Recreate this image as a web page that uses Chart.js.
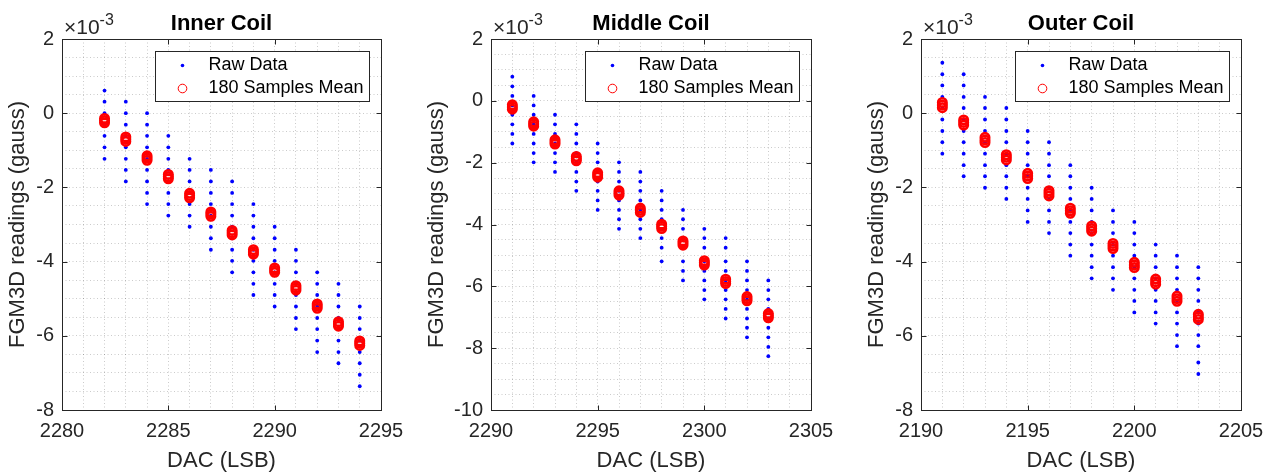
<!DOCTYPE html>
<html>
<head>
<meta charset="utf-8">
<script src="https://cdn.jsdelivr.net/npm/chart.js@4"></script>
<style>
  html, body { margin: 0; padding: 0; background: #fff; }
  #wrap { position: relative; width: 1275px; height: 472px; }
  canvas { position: absolute; top: 0; }
</style>
</head>
<body>
<div id="wrap">
  <canvas id="innerChart" width="425" height="472" style="left:0px"></canvas>
  <canvas id="middleChart" width="425" height="472" style="left:425px"></canvas>
  <canvas id="outerChart" width="425" height="472" style="left:850px"></canvas>
</div>
<script>
// values in units of 1e-3 gauss
const innerDac = [2282, 2283, 2284, 2285, 2286, 2287, 2288, 2289, 2290, 2291, 2292, 2293, 2294];
const innerRaw = [
  [0.61, 0.31, 0.00, -0.31, -0.61, -0.92, -1.23],
  [0.31, 0.00, -0.31, -0.61, -0.92, -1.23, -1.53, -1.84],
  [0.00, -0.31, -0.61, -0.92, -1.23, -1.53, -1.84, -2.15, -2.45],
  [-0.61, -0.92, -1.23, -1.53, -1.84, -2.15, -2.45, -2.76],
  [-1.23, -1.53, -1.84, -2.15, -2.45, -2.76, -3.06],
  [-1.53, -1.84, -2.15, -2.45, -2.76, -3.06, -3.37, -3.68],
  [-1.84, -2.15, -2.45, -2.76, -3.06, -3.37, -3.68, -3.98, -4.29],
  [-2.45, -2.76, -3.06, -3.37, -3.68, -3.98, -4.29, -4.60, -4.90],
  [-3.06, -3.37, -3.68, -3.98, -4.29, -4.60, -4.90, -5.21],
  [-3.68, -3.98, -4.29, -4.60, -4.90, -5.21, -5.52, -5.82],
  [-4.29, -4.60, -4.90, -5.21, -5.52, -5.82, -6.13, -6.44],
  [-4.60, -4.90, -5.21, -5.52, -5.82, -6.13, -6.44, -6.74],
  [-5.21, -5.52, -5.82, -6.13, -6.44, -6.74, -7.05, -7.36]
];
const innerMeans = [
  [-0.14, -0.20, -0.26], [-0.64, -0.70, -0.76], [-1.15, -1.21, -1.27],
  [-1.65, -1.71, -1.77], [-2.16, -2.22, -2.28], [-2.66, -2.72, -2.78],
  [-3.16, -3.22, -3.28], [-3.68, -3.74, -3.80], [-4.17, -4.23, -4.29],
  [-4.65, -4.71, -4.77], [-5.14, -5.20, -5.26], [-5.62, -5.68, -5.74],
  [-6.14, -6.20, -6.26]
];

const middleDac = [2291, 2292, 2293, 2294, 2295, 2296, 2297, 2298, 2299, 2300, 2301, 2302, 2303];
const middleRaw = [
  [0.78, 0.47, 0.16, -0.15, -0.45, -0.76, -1.07, -1.38],
  [0.16, -0.15, -0.45, -0.76, -1.07, -1.38, -1.69, -1.99],
  [-0.45, -0.76, -1.07, -1.38, -1.69, -1.99, -2.30],
  [-0.76, -1.07, -1.38, -1.69, -1.99, -2.30, -2.61, -2.91],
  [-1.38, -1.69, -1.99, -2.30, -2.61, -2.91, -3.22, -3.53],
  [-1.99, -2.30, -2.61, -2.91, -3.22, -3.53, -3.83, -4.14],
  [-2.30, -2.61, -2.91, -3.22, -3.53, -3.83, -4.14, -4.44],
  [-2.91, -3.22, -3.53, -3.83, -4.14, -4.44, -4.75, -5.19],
  [-3.53, -3.83, -4.14, -4.44, -4.75, -5.19, -5.50, -5.81],
  [-4.14, -4.44, -4.75, -5.19, -5.50, -5.81, -6.12, -6.42],
  [-4.44, -4.75, -5.19, -5.50, -5.81, -6.12, -6.42, -6.73, -7.04],
  [-5.19, -5.50, -5.81, -6.12, -6.42, -6.73, -7.04, -7.34, -7.65],
  [-5.81, -6.12, -6.42, -6.73, -7.04, -7.34, -7.65, -7.96, -8.26]
];
const middleMeans = [
  [-0.13, -0.20, -0.27], [-0.68, -0.75, -0.82], [-1.26, -1.33, -1.40],
  [-1.80, -1.87, -1.94], [-2.33, -2.40, -2.47], [-2.91, -2.98, -3.05],
  [-3.47, -3.54, -3.61], [-3.99, -4.06, -4.13], [-4.53, -4.60, -4.67],
  [-5.17, -5.24, -5.31], [-5.77, -5.84, -5.91], [-6.33, -6.40, -6.47],
  [-6.88, -6.95, -7.02]
];

const outerDac = [2191, 2192, 2193, 2194, 2195, 2196, 2197, 2198, 2199, 2200, 2201, 2202, 2203];
const outerRaw = [
  [1.36, 1.05, 0.75, 0.44, 0.14, -0.17, -0.48, -0.78, -1.09],
  [1.05, 0.75, 0.44, 0.14, -0.17, -0.48, -0.78, -1.09, -1.40, -1.70],
  [0.44, 0.14, -0.17, -0.48, -0.78, -1.09, -1.40, -1.70, -2.01],
  [0.14, -0.17, -0.48, -0.78, -1.09, -1.40, -1.70, -2.01, -2.31],
  [-0.48, -0.78, -1.09, -1.40, -1.70, -2.01, -2.31, -2.62, -2.93],
  [-0.78, -1.09, -1.40, -1.70, -2.01, -2.31, -2.62, -2.93, -3.23],
  [-1.40, -1.70, -2.01, -2.31, -2.62, -2.93, -3.23, -3.54, -3.84],
  [-2.01, -2.31, -2.62, -2.93, -3.23, -3.54, -3.84, -4.15, -4.45],
  [-2.62, -2.93, -3.23, -3.54, -3.84, -4.15, -4.45, -4.76],
  [-2.93, -3.23, -3.54, -3.84, -4.15, -4.45, -4.76, -5.06, -5.37],
  [-3.54, -3.84, -4.15, -4.45, -4.76, -5.06, -5.37, -5.67],
  [-3.84, -4.15, -4.45, -4.76, -5.06, -5.37, -5.67, -5.98, -6.28],
  [-4.15, -4.45, -4.76, -5.06, -5.37, -5.67, -5.98, -6.28, -6.72, -7.03]
];
const outerMeans = [
  [0.29, 0.22, 0.15], [-0.18, -0.25, -0.32], [-0.65, -0.72, -0.79],
  [-1.12, -1.19, -1.26], [-1.62, -1.69, -1.76], [-2.09, -2.16, -2.23],
  [-2.56, -2.63, -2.70], [-3.04, -3.11, -3.18], [-3.51, -3.58, -3.65],
  [-4.02, -4.09, -4.16], [-4.47, -4.54, -4.61], [-4.93, -5.00, -5.07],
  [-5.42, -5.49, -5.56]
];

const legendLabels = ['Raw Data', '180 Samples Mean'];
const xTitle = 'DAC (LSB)';
const yTitle = 'FGM3D readings (gauss)';

const FONT = "'Liberation Sans', Arial, Helvetica, sans-serif";
const INK = '#262626';
const GRID = 'rgba(38,38,38,0.24)';
const RAW_COLOR = '#0000ff';
const MEAN_COLOR = '#ff0000';

// MATLAB-like decorations: box, inner ticks, legend, title, exponent, axis titles
const matlabFrame = {
  id: 'matlabFrame',
  afterDraw(chart, args, opts) {
    const { ctx, chartArea: a, scales: { x, y } } = chart;
    const L = Math.round(a.left) + 0.5, R = Math.round(a.right) + 0.5;
    const T = Math.round(a.top) + 0.5, B = Math.round(a.bottom) + 0.5;
    ctx.save();
    ctx.strokeStyle = INK;
    ctx.lineWidth = 1;
    ctx.beginPath();
    x.ticks.forEach(t => {
      if (t.value % 5 !== 0) return;
      const px = Math.round(x.getPixelForValue(t.value)) + 0.5;
      ctx.moveTo(px, B); ctx.lineTo(px, B - 5);
      ctx.moveTo(px, T); ctx.lineTo(px, T + 5);
    });
    y.ticks.forEach(t => {
      if (t.value % 2 !== 0) return;
      const py = Math.round(y.getPixelForValue(t.value)) + 0.5;
      ctx.moveTo(L, py); ctx.lineTo(L + 5, py);
      ctx.moveTo(R, py); ctx.lineTo(R - 5, py);
    });
    ctx.stroke();
    ctx.strokeRect(L, T, R - L, B - T);

    // legend box
    const bw = 214, bh = 50;
    const bx = R - 12 - bw, by = T + 12;
    ctx.fillStyle = '#fff';
    ctx.fillRect(bx, by, bw, bh);
    ctx.strokeStyle = INK;
    ctx.strokeRect(bx, by, bw, bh);
    ctx.fillStyle = RAW_COLOR;
    ctx.beginPath(); ctx.arc(bx + 27, by + 14, 1.8, 0, Math.PI * 2); ctx.fill();
    ctx.strokeStyle = MEAN_COLOR;
    ctx.lineWidth = 1;
    ctx.beginPath(); ctx.arc(bx + 27, by + 37, 4.3, 0, Math.PI * 2); ctx.stroke();
    ctx.fillStyle = '#000';
    ctx.font = `18px ${FONT}`;
    ctx.textAlign = 'left';
    ctx.textBaseline = 'middle';
    ctx.fillText(chart.data.datasets[1].label, bx + 53, by + 14);
    ctx.fillText(chart.data.datasets[0].label, bx + 53, by + 37);

    // title
    ctx.font = `bold 22px ${FONT}`;
    ctx.textAlign = 'center';
    ctx.textBaseline = 'alphabetic';
    ctx.fillText(opts.title, (a.left + a.right) / 2, 29.5);

    // x10^-3
    ctx.fillStyle = INK;
    ctx.textAlign = 'left';
    ctx.font = `21px ${FONT}`;
    ctx.fillText('\u00d710', a.left + 2, 34);
    const w = ctx.measureText('\u00d710').width;
    ctx.font = `16px ${FONT}`;
    ctx.fillText('-3', a.left + 2 + w, 25);

    // axis titles
    ctx.font = `22px ${FONT}`;
    ctx.textAlign = 'center';
    ctx.fillText(xTitle, (a.left + a.right) / 2, 467);
    ctx.translate(opts.yTitleX, (a.top + a.bottom) / 2);
    ctx.rotate(-Math.PI / 2);
    ctx.textBaseline = 'middle';
    ctx.fillText(yTitle, 0, 0);
    ctx.restore();
  }
};

function toPoints(dac, groups) {
  const pts = [];
  groups.forEach((vals, i) => vals.forEach(v => pts.push({ x: dac[i], y: v })));
  return pts;
}

function makePanel(id, title, dac, raw, means, xMin, xMax, yMin, yMax, axisW, padRight, yTitleX) {
  const tickFont = { family: FONT, size: 20 };
  return new Chart(document.getElementById(id), {
    type: 'scatter',
    data: {
      datasets: [
        {
          label: legendLabels[1],
          data: toPoints(dac, means),
          pointRadius: 4.2,
          pointBorderWidth: 2.6,
          pointBorderColor: MEAN_COLOR,
          pointBackgroundColor: 'rgba(0,0,0,0)',
          order: 0
        },
        {
          label: legendLabels[0],
          data: toPoints(dac, raw),
          pointRadius: 1.9,
          pointBorderWidth: 0,
          pointBackgroundColor: RAW_COLOR,
          order: 1
        }
      ]
    },
    options: {
      responsive: false,
      animation: false,
      devicePixelRatio: 1,
      events: [],
      layout: { padding: { left: 0, right: padRight, top: 39, bottom: 0 } },
      plugins: {
        legend: { display: false },
        tooltip: { enabled: false },
        matlabFrame: { title: title, yTitleX: yTitleX }
      },
      scales: {
        x: {
          type: 'linear',
          min: xMin,
          max: xMax,
          afterFit: s => { s.height = 62; },
          grid: { color: GRID, drawTicks: false },
          border: { display: false, dash: [1, 2.5] },
          ticks: {
            stepSize: 1, autoSkip: false, maxRotation: 0, padding: 9,
            color: INK, font: tickFont,
            callback: v => (v % 5 === 0 ? String(v) : '')
          }
        },
        y: {
          min: yMin,
          max: yMax,
          afterFit: s => { s.width = axisW; },
          grid: { color: GRID, drawTicks: false },
          border: { display: false, dash: [1, 2.5] },
          ticks: {
            stepSize: 0.5, autoSkip: false, padding: 8,
            color: INK, font: tickFont,
            callback: v => (v === 0 ? '0' : v % 2 === 0 ? String(v) : '')
          }
        }
      }
    },
    plugins: [matlabFrame]
  });
}

makePanel('innerChart', 'Inner Coil', innerDac, innerRaw, innerMeans, 2280, 2295, -8, 2, 62, 44, 18);
makePanel('middleChart', 'Middle Coil', middleDac, middleRaw, middleMeans, 2290, 2305, -10, 2, 66, 39, 12);
makePanel('outerChart', 'Outer Coil', outerDac, outerRaw, outerMeans, 2190, 2205, -8, 2, 71, 34, 27);
</script>
</body>
</html>
